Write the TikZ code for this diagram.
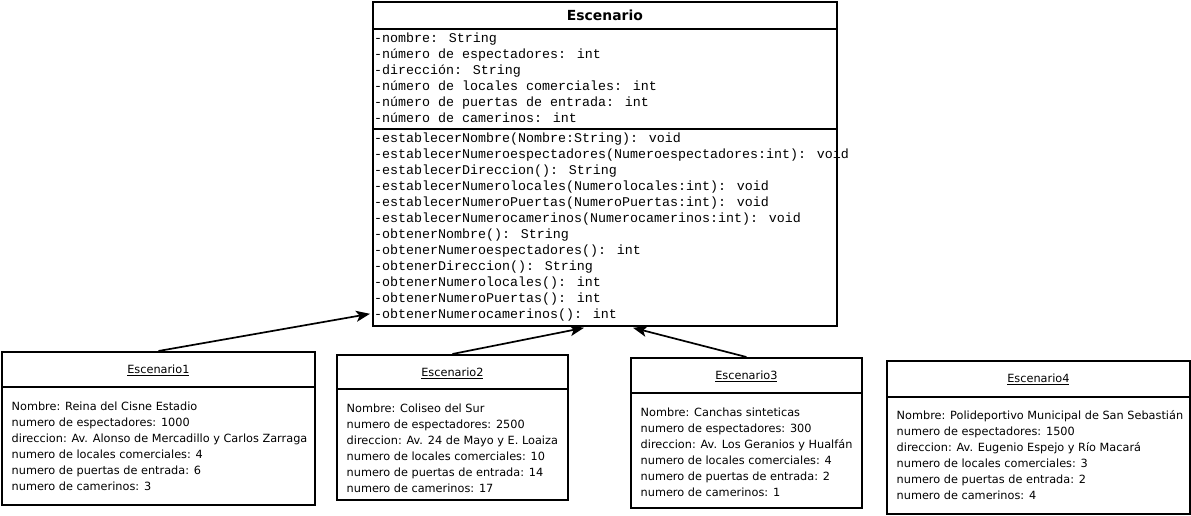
\documentclass[tikz,border=0pt]{standalone}
\usepackage{fontspec}
\setmainfont{DejaVu Sans}
\newfontfamily\monof{Liberation Mono}
\usetikzlibrary{arrows.meta,calc}
\begin{document}
\begin{tikzpicture}[x=1pt,y=-1pt,
 boxline/.style={draw=black, line width=1.8pt},
 umlbox/.style={boxline, anchor=north west, inner sep=0pt},
 mono/.style={font=\monof\fontsize{13.33}{16}\selectfont, anchor=west, inner sep=0pt, text height=7.6pt, text depth=0pt},
 body/.style={font=\fontsize{11.3}{16}\selectfont, anchor=west, inner sep=0pt, text height=8pt, text depth=0pt},
 objtitle/.style={font=\fontsize{11.3}{16}\selectfont, inner sep=0pt},
 inst/.style={-{Stealth[length=14pt,width=11pt,inset=3.5pt]}, line width=1.7pt},
]
\fill[white] (0,0) rectangle (1191,515);
\useasboundingbox (0,0) rectangle (1191,515);

% main class
\node[umlbox, minimum width=464pt, minimum height=324pt] (esc) at (372,1) {};
\node[font=\bfseries\fontsize{13.9}{16}\selectfont, inner sep=0pt] (escname) at ($(esc.north)+(0,14)$) {Escenario};
\draw[boxline] ($(esc.north west)+(0,28)$) -- ($(esc.north east)+(0,28)$);
\draw[boxline] ($(esc.north west)+(0,128)$) -- ($(esc.north east)+(0,128)$);
\foreach \t [count=\i] in {{-nombre: String},{-número de espectadores: int},{-dirección: String},{-número de locales comerciales: int},{-número de puertas de entrada: int},{-número de camerinos: int}}
  \node[mono] (att\i) at ($(esc.north west)+(2,{22+16*\i})$) {\t};
\foreach \t [count=\i] in {{-establecerNombre(Nombre:String): void},{-establecerNumeroespectadores(Numeroespectadores:int): void},{-establecerDireccion(): String},{-establecerNumerolocales(Numerolocales:int): void},{-establecerNumeroPuertas(NumeroPuertas:int): void},{-establecerNumerocamerinos(Numerocamerinos:int): void},{-obtenerNombre(): String},{-obtenerNumeroespectadores(): int},{-obtenerDireccion(): String},{-obtenerNumerolocales(): int},{-obtenerNumeroPuertas(): int},{-obtenerNumerocamerinos(): int}}
  \node[mono] (met\i) at ($(esc.north west)+(2,{122+16*\i})$) {\t};

% object 1
\node[umlbox, minimum width=313pt, minimum height=153pt] (o1) at (1,351) {};
\draw[boxline] ($(o1.north west)+(0,36)$) -- ($(o1.north east)+(0,36)$);
\node[objtitle] (o1n) at ($(o1.north)+(0,19)$) {\underline{Escenario1}};
\foreach \t [count=\i] in {{Nombre: Reina del Cisne Estadio},{numero de espectadores: 1000},{direccion: Av. Alonso de Mercadillo y Carlos Zarraga},{numero de locales comerciales: 4},{numero de puertas de entrada: 6},{numero de camerinos: 3}}
  \node[body] (o1l\i) at ($(o1.north west)+(10.5,{39+16*\i})$) {\t};

% object 2
\node[umlbox, minimum width=231pt, minimum height=145pt] (o2) at (336,354) {};
\draw[boxline] ($(o2.north west)+(0,35)$) -- ($(o2.north east)+(0,35)$);
\node[objtitle] (o2n) at ($(o2.north)+(0,19)$) {\underline{Escenario2}};
\foreach \t [count=\i] in {{Nombre: Coliseo del Sur},{numero de espectadores: 2500},{direccion: Av. 24 de Mayo y E. Loaiza},{numero de locales comerciales: 10},{numero de puertas de entrada: 14},{numero de camerinos: 17}}
  \node[body] (o2l\i) at ($(o2.north west)+(10.5,{38+16*\i})$) {\t};

% object 3
\node[umlbox, minimum width=231pt, minimum height=150pt] (o3) at (630,357) {};
\draw[boxline] ($(o3.north west)+(0,36)$) -- ($(o3.north east)+(0,36)$);
\node[objtitle] (o3n) at ($(o3.north)+(0,19)$) {\underline{Escenario3}};
\foreach \t [count=\i] in {{Nombre: Canchas sinteticas},{numero de espectadores: 300},{direccion: Av. Los Geranios y Hualfán},{numero de locales comerciales: 4},{numero de puertas de entrada: 2},{numero de camerinos: 1}}
  \node[body] (o3l\i) at ($(o3.north west)+(10.5,{39+16*\i})$) {\t};

% object 4
\node[umlbox, minimum width=303pt, minimum height=153pt] (o4) at (886,360) {};
\draw[boxline] ($(o4.north west)+(0,37)$) -- ($(o4.north east)+(0,37)$);
\node[objtitle] (o4n) at ($(o4.north)+(0,19)$) {\underline{Escenario4}};
\foreach \t [count=\i] in {{Nombre: Polideportivo Municipal de San Sebastián},{numero de espectadores: 1500},{direccion: Av. Eugenio Espejo y Río Macará},{numero de locales comerciales: 3},{numero de puertas de entrada: 2},{numero de camerinos: 4}}
  \node[body] (o4l\i) at ($(o4.north west)+(10.5,{39+16*\i})$) {\t};

% connectors
\coordinate (t1) at ($(esc.south west)+(-2,-13)$);
\coordinate (t2) at ($(esc.south west)+(212,1)$);
\coordinate (t3) at ($(esc.south west)+(261,1)$);
\draw[inst] (o1.north) -- (t1);
\draw[inst] (o2.north) -- (t2);
\draw[inst] (o3.north) -- (t3);
\end{tikzpicture}
\end{document}
